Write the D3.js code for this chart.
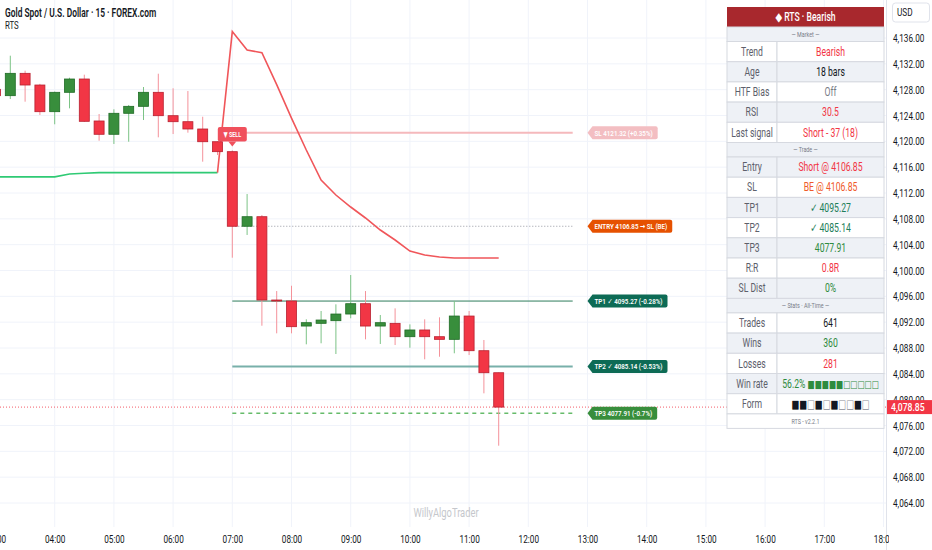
<!DOCTYPE html>
<html>
<head>
<meta charset="utf-8">
<script src="https://cdn.jsdelivr.net/npm/d3@7"></script>
<style>
    html, body { margin: 0; padding: 0; background: #fff; overflow: hidden; }
    svg { display: block; font-family: Roboto, "Noto Sans", "DejaVu Sans", sans-serif; }
</style>
</head>
<body>
<svg id="chart" width="932" height="550"></svg>
<script>
// ---- data ----
var barTimes = ["03:00", "03:15", "03:30", "03:45", "04:00", "04:15", "04:30", "04:45",
    "05:00", "05:15", "05:30", "05:45", "06:00", "06:15", "06:30", "06:45",
    "07:00", "07:15", "07:30", "07:45", "08:00", "08:15", "08:30", "08:45",
    "09:00", "09:15", "09:30", "09:45", "10:00", "10:15", "10:30", "10:45",
    "11:00", "11:15", "11:30"];
var opens = [4128.05, 4127.07, 4130.53, 4128.72, 4124.59, 4127.59, 4129.65, 4123.15,
    4121.09, 4124.34, 4125.42, 4127.59, 4123.97, 4123.04, 4121.91, 4119.94,
    4118.40, 4106.85, 4108.33, 4095.43, 4095.28, 4091.40, 4091.82, 4092.23,
    4093.26, 4094.86, 4091.40, 4091.82, 4089.75, 4090.79, 4089.75, 4089.34,
    4092.95, 4087.58, 4084.17];
var highs = [4128.40, 4133.26, 4130.94, 4128.90, 4127.70, 4129.85, 4130.32, 4124.23,
    4124.96, 4125.63, 4128.41, 4130.47, 4128.21, 4127.79, 4123.81, 4120.00,
    4118.60, 4111.84, 4108.59, 4096.82, 4097.64, 4092.44, 4093.73, 4094.76,
    4099.30, 4096.82, 4093.11, 4094.14, 4091.66, 4092.44, 4092.75, 4095.28,
    4093.73, 4089.24, 4084.20];
var lows = [4126.80, 4126.55, 4126.14, 4124.08, 4122.64, 4125.11, 4123.00, 4120.10,
    4119.59, 4119.94, 4123.30, 4120.62, 4121.13, 4121.34, 4116.85, 4117.88,
    4101.98, 4105.50, 4091.45, 4090.27, 4090.27, 4088.57, 4088.73, 4087.07,
    4092.60, 4089.34, 4088.62, 4088.46, 4088.04, 4086.25, 4086.65, 4087.18,
    4086.91, 4080.98, 4072.87];
var closes = [4127.07, 4130.53, 4128.72, 4124.59, 4127.59, 4129.65, 4123.10, 4121.09,
    4124.34, 4125.42, 4127.59, 4123.97, 4123.04, 4121.91, 4119.94, 4118.40,
    4106.85, 4108.33, 4095.43, 4095.30, 4091.30, 4091.92, 4092.33, 4093.26,
    4094.86, 4091.40, 4091.92, 4089.75, 4090.79, 4089.75, 4089.34, 4092.95,
    4087.58, 4084.17, 4078.85];

// trailing line: bullish part 03:00-06:45, bearish part 06:45-11:30
var bullTrail = [4114.50, 4114.50, 4114.50, 4114.50, 4114.50, 4114.95, 4115.05, 4115.15,
    4115.15, 4115.15, 4115.15, 4115.15, 4115.15, 4115.15, 4115.15, 4115.15];
var bearTrail = [4115.15, 4137.00, 4134.14, 4133.72, 4128.78, 4123.60, 4118.66, 4114.00,
    4111.69, 4109.83, 4108.13, 4106.27, 4104.72, 4103.00, 4102.40, 4102.09,
    4101.93, 4101.93, 4101.93, 4101.93];

var priceTicks = [4064, 4068, 4072, 4076, 4080, 4084, 4088, 4092, 4096, 4100,
    4104, 4108, 4112, 4116, 4120, 4124, 4128, 4132, 4136];
var hourTicks = ["03:00", "04:00", "05:00", "06:00", "07:00", "08:00", "09:00", "10:00",
    "11:00", "12:00", "13:00", "14:00", "15:00", "16:00", "17:00", "18:00"];

var levelPrices = [4121.32, 4106.85, 4095.27, 4085.14, 4077.91];
var levelTexts = ["SL 4121.32 (+0.35%)", "ENTRY 4106.85 \u2192 SL (BE)", "TP1 \u2713 4095.27 (-0.28%)",
    "TP2 \u2713 4085.14 (-0.53%)", "TP3 4077.91 (-0.7%)"];
var signalTime = "07:00", levelEnd = "12:45", tagTime = "13:00";
var lastPrice = 4078.85;

var tableTitle = "\u25C6 RTS \u00B7 Bearish";
var sectionTitles = ["\u2014 Market \u2014", "\u2014 Trade \u2014", "\u2014 Stats \u00B7 All-Time \u2014"];
var marketLabels = ["Trend", "Age", "HTF Bias", "RSI", "Last signal"];
var marketValues = ["Bearish", "18 bars", "Off", "30.5", "Short - 37 (18)"];
var tradeLabels = ["Entry", "SL", "TP1", "TP2", "TP3", "R:R", "SL Dist"];
var tradeValues = ["Short @ 4106.85", "BE @ 4106.85", "\u2713 4095.27", "\u2713 4085.14", "4077.91", "0.8R", "0%"];
var statsLabels = ["Trades", "Wins", "Losses", "Win rate", "Form"];
var statsValues = ["641", "360", "281", "56.2%", ""];
var winRateBlocks = "\u25A0\u25A0\u25A0\u25A0\u25A0\u25A1\u25A1\u25A1\u25A1\u25A1";
var formBlocks = "\u25A0\u25A0\u25A1\u25A0\u25A1\u25A0\u25A1\u25A1\u25A0\u25A1";
var tableFooter = "RTS - v2.2.1";

// ---- styles ----
var RED = "#f23645", GREEN = "#2e8b3e", TEAL = "#1e7e5a", INK = "#131722";
var marketColors = [RED, INK, "#787b86", RED, RED];
var tradeColors = [RED, "#ef5a2a", TEAL, TEAL, GREEN, RED, GREEN];
var statsColors = [INK, GREEN, RED, GREEN, INK];
var levelStyles = [
    { stroke: "#f5b9bc", width: 2, dash: null, tag: "#f3bec2" },
    { stroke: "#9598a1", width: 1, dash: "1,2", tag: "#e65100" },
    { stroke: "#2e7d5b", width: 1, dash: null, tag: "#0d6b55" },
    { stroke: "#78b0aa", width: 2, dash: null, tag: "#0d6b55" },
    { stroke: "#66bb6a", width: 1.5, dash: "4,4", tag: "#388e3c" }
];

var SX = 0.72; // the picture's text is horizontally condensed
var AX = 0.82; // axis text is a little less condensed
var W = 932, H = 550, plotRight = 886, plotBottom = 527;

function toMin(s) { var p = s.split(":"); return +p[0] * 60 + +p[1]; }

var x = d3.scaleLinear().domain([toMin("03:00"), toMin("18:00")]).range([-4.5, 883.5]);
var y = d3.scaleLinear().domain([4064, 4136]).range([503, 38]);

var svg = d3.select("#chart");

svg.append("defs").append("clipPath").attr("id", "plot")
    .append("rect").attr("x", 0).attr("y", 0).attr("width", plotRight).attr("height", plotBottom);
svg.select("defs").append("clipPath").attr("id", "timeclip")
    .append("rect").attr("x", 0).attr("y", plotBottom).attr("width", 889).attr("height", H - plotBottom);

function sq(sel, k) {
    sel.each(function () {
        var t = d3.select(this);
        var tx = +t.attr("x") || 0;
        t.attr("x", tx / k).attr("transform", "scale(" + k + ",1)");
    });
    return sel;
}

function label(g, px, py, str, size, color, anchor, weight, k) {
    return g.append("text")
        .attr("transform", "translate(" + px + "," + py + ") scale(" + (k || SX) + ",1)")
        .attr("text-anchor", anchor || "start")
        .style("font-size", size + "px")
        .style("font-weight", weight || 400)
        .attr("fill", color)
        .text(str);
}

// grid
var grid = svg.append("g").attr("clip-path", "url(#plot)");
grid.selectAll(".hg").data(priceTicks).enter().append("line")
    .attr("x1", 0).attr("x2", plotRight)
    .attr("y1", function (d) { return y(d); }).attr("y2", function (d) { return y(d); })
    .style("stroke", "#f0f3fa").style("stroke-width", 1);
grid.selectAll(".vg").data(hourTicks).enter().append("line")
    .attr("x1", function (d) { return x(toMin(d)); }).attr("x2", function (d) { return x(toMin(d)); })
    .attr("y1", 0).attr("y2", plotBottom)
    .style("stroke", "#f0f3fa").style("stroke-width", 1);

// watermark
label(svg, 446, 517, "WillyAlgoTrader", 12, "#c5c7cc", "middle", 400, 0.78);

var plot = svg.append("g").attr("clip-path", "url(#plot)");

// level lines
var x0 = x(toMin(signalTime)), x1 = x(toMin(levelEnd));
levelPrices.forEach(function (p, i) {
    var st = levelStyles[i];
    plot.append("line")
        .attr("x1", x0).attr("x2", x1).attr("y1", y(p)).attr("y2", y(p))
        .style("stroke", st.stroke).style("stroke-width", st.width)
        .style("stroke-dasharray", st.dash);
});

// current price line
plot.append("line")
    .attr("x1", 0).attr("x2", plotRight).attr("y1", y(lastPrice)).attr("y2", y(lastPrice))
    .style("stroke", RED).style("stroke-width", 1).style("stroke-dasharray", "1,2").style("opacity", 0.8);

// trailing lines
var trailLine = d3.line()
    .x(function (d) { return x(toMin(d.t)); })
    .y(function (d) { return y(d.v); });
plot.append("path")
    .attr("d", trailLine(bullTrail.map(function (v, i) { return { t: barTimes[i], v: v }; })))
    .style("fill", "none").style("stroke", "#2fca74").style("stroke-width", 1.6);
plot.append("path")
    .attr("d", trailLine(bearTrail.map(function (v, i) { return { t: barTimes[i + 15], v: v }; })))
    .style("fill", "none").style("stroke", "#f0565a").style("stroke-width", 1.6);

// candles
var bars = barTimes.map(function (t, i) {
    return { t: toMin(t), o: opens[i], h: highs[i], l: lows[i], c: closes[i] };
});
var bodyW = 10;
var candle = plot.selectAll(".candle").data(bars).enter().append("g").attr("class", "candle");
candle.append("line")
    .attr("x1", function (d) { return x(d.t); }).attr("x2", function (d) { return x(d.t); })
    .attr("y1", function (d) { return y(d.h); }).attr("y2", function (d) { return y(d.l); })
    .style("stroke", function (d) { return d.c >= d.o ? "#7cc386" : "#f4929a"; })
    .style("stroke-width", 1);
candle.append("rect")
    .attr("x", function (d) { return x(d.t) - bodyW / 2; })
    .attr("width", bodyW)
    .attr("y", function (d) { return y(Math.max(d.o, d.c)); })
    .attr("height", function (d) { return Math.max(1, Math.abs(y(d.o) - y(d.c))); })
    .style("fill", function (d) { return d.c >= d.o ? "#388e3c" : RED; })
    .style("stroke", function (d) { return d.c >= d.o ? "#1f6b25" : "#b8202f"; })
    .style("stroke-width", 0.8);

// SELL marker
var sig = bars[barTimes.indexOf(signalTime)];
var sx = x(sig.t), sTop = y(sig.h) - 4;
plot.append("path")
    .attr("d", "M" + (sx - 4) + "," + (sTop - 5) + "L" + (sx + 4) + "," + (sTop - 5) + "L" + sx + "," + sTop + "Z")
    .style("fill", "#f0505c");
plot.append("rect")
    .attr("x", sx - 14.5).attr("y", sTop - 19.5).attr("width", 29).attr("height", 14.5).attr("rx", 2)
    .style("fill", "#f0505c");
label(plot, sx, sTop - 9.5, "\u25BC SELL", 7.5, "#fff", "middle", 700);

// level tags
var tx = x(toMin(tagTime));
levelPrices.forEach(function (p, i) {
    var yc = y(p), h = 13;
    var g = svg.append("g");
    var path = g.append("path").style("fill", levelStyles[i].tag);
    var t = label(g, tx + 7, yc + 2.8, levelTexts[i], 8, "#fff", "start", 600, 0.78);
    var w = t.node().getComputedTextLength() * 0.78 + 12;
    var tp = yc - h / 2, bt = yc + h / 2;
    path.attr("d", "M" + tx + "," + yc + "L" + (tx + 5) + "," + tp + "L" + (tx + w - 2) + "," + tp +
        "Q" + (tx + w) + "," + tp + " " + (tx + w) + "," + (tp + 2) + "L" + (tx + w) + "," + (bt - 2) +
        "Q" + (tx + w) + "," + bt + " " + (tx + w - 2) + "," + bt + "L" + (tx + 5) + "," + bt + "Z");
});

// price axis
svg.append("rect").attr("x", plotRight).attr("y", 0).attr("width", W - plotRight).attr("height", H).style("fill", "#fff");
svg.append("line").attr("x1", plotRight + 0.5).attr("x2", plotRight + 0.5).attr("y1", 0).attr("y2", H)
    .style("stroke", "#e0e3eb");
var yAxis = svg.append("g").attr("transform", "translate(" + plotRight + ",0)")
    .call(d3.axisRight(y).tickValues(priceTicks).tickFormat(d3.format(",.2f")).tickSize(0));
yAxis.select(".domain").remove();
yAxis.selectAll("text").attr("x", 7).attr("dy", "0.35em")
    .style("font-size", "10px").style("font-family", "Roboto, sans-serif").attr("fill", INK);
sq(yAxis.selectAll("text"), AX);

// time axis (clip in the outer, untransformed group)
var xAxisWrap = svg.append("g").attr("clip-path", "url(#timeclip)");
var xAxis = xAxisWrap.append("g").attr("transform", "translate(0," + plotBottom + ")")
    .call(d3.axisBottom(x).tickValues(hourTicks.map(toMin))
        .tickFormat(function (d, i) { return hourTicks[i]; }).tickSize(0));
xAxis.select(".domain").remove();
xAxis.selectAll("text").attr("y", 13).attr("dy", "0.35em")
    .style("font-size", "10px").style("font-family", "Roboto, sans-serif").attr("fill", INK);
sq(xAxis.selectAll("text"), AX);

// last price tag
svg.append("rect").attr("x", 887).attr("y", y(lastPrice) - 7).attr("width", 45).attr("height", 14)
    .style("fill", RED);
label(svg, 891, y(lastPrice) + 3.6, d3.format(",.2f")(lastPrice), 10.5, "#fff", "start", 500, AX);

// USD button
svg.append("rect").attr("x", 892.5).attr("y", 3).attr("width", 37).attr("height", 19).attr("rx", 3)
    .style("fill", "#fff").style("stroke", "#e0e3eb");
label(svg, 897, 16, "USD", 10, INK, "start", 400, AX);

// title
label(svg, 5, 16.5, "Gold Spot / U.S. Dollar \u00B7 15 \u00B7 FOREX.com", 12, INK, "start", 600, 0.7);
label(svg, 5, 28.5, "RTS", 10, INK, "start", 400, 0.78);

// ---- status table ----
var TX0 = 727, TX1 = 884, TSPLIT = 777;
var tbl = svg.append("g");
var rowY = 7, dataRowH = 20.2, secH = 14.5, headH = 20, rowIdx = 0;
var GREY = "#eef1f6", BORDER = "#d6d9e0";

tbl.append("rect").attr("x", TX0).attr("y", rowY).attr("width", TX1 - TX0).attr("height", headH)
    .style("fill", "#a8282d");
label(tbl, (TX0 + TX1) / 2, rowY + 14, tableTitle, 12, "#fff", "middle", 500);
rowY += headH;

function sectionRow(title) {
    tbl.append("rect").attr("x", TX0).attr("y", rowY).attr("width", TX1 - TX0).attr("height", secH)
        .style("fill", GREY).style("stroke", BORDER);
    label(tbl, (TX0 + TX1) / 2, rowY + 9.8, title, 7.5, "#787b86", "middle");
    rowY += secH;
}

function dataRows(labels, values, colors) {
    labels.forEach(function (lab, i) {
        var bg = rowIdx % 2 === 0 ? "#fff" : GREY;
        tbl.append("rect").attr("x", TX0).attr("y", rowY).attr("width", TSPLIT - TX0).attr("height", dataRowH)
            .style("fill", bg).style("stroke", BORDER);
        tbl.append("rect").attr("x", TSPLIT).attr("y", rowY).attr("width", TX1 - TSPLIT).attr("height", dataRowH)
            .style("fill", bg).style("stroke", BORDER);
        label(tbl, (TX0 + TSPLIT) / 2, rowY + 14.2, lab, 12, "#5d606b", "middle");
        var t = label(tbl, (TSPLIT + TX1) / 2, rowY + 14.2, values[i], 12, colors[i], "middle");
        if (lab === "Win rate") {
            t.append("tspan").text(" ");
            t.append("tspan").style("font-size", "10.5px").text(winRateBlocks);
        }
        if (lab === "Form") {
            formBlocks.split("").forEach(function (c) {
                t.append("tspan").style("font-size", "11.5px")
                    .attr("fill", c === "\u25A0" ? INK : "#8a8d96").text(c);
            });
        }
        rowY += dataRowH;
        rowIdx++;
    });
}

sectionRow(sectionTitles[0]);
dataRows(marketLabels, marketValues, marketColors);
sectionRow(sectionTitles[1]);
dataRows(tradeLabels, tradeValues, tradeColors);
sectionRow(sectionTitles[2]);
dataRows(statsLabels, statsValues, statsColors);

tbl.append("rect").attr("x", TX0).attr("y", rowY).attr("width", TX1 - TX0).attr("height", secH)
    .style("fill", "#fff").style("stroke", BORDER);
label(tbl, (TX0 + TX1) / 2, rowY + 9.8, tableFooter, 7.5, "#787b86", "middle");
</script>
</body>
</html>
